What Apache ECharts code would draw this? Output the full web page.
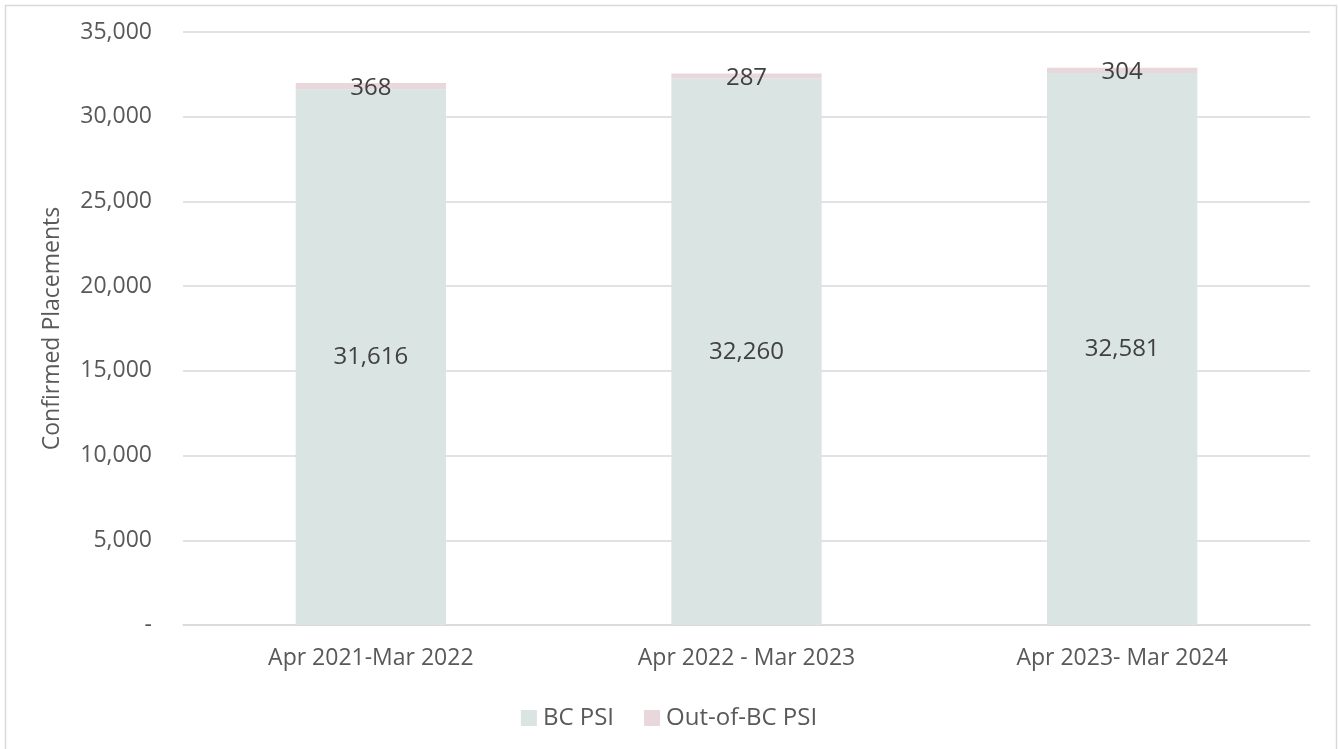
<!DOCTYPE html>
<html><head><meta charset="utf-8">
<script src="https://cdn.jsdelivr.net/npm/echarts@6/dist/echarts.min.js"></script>
<style>html,body{margin:0;padding:0;background:#fff;}#c{width:1338px;height:749px;}</style>
</head><body><div id="c"></div>
<script>
const categories = ["Apr 2021-Mar 2022", "Apr 2022 - Mar 2023", "Apr 2023- Mar 2024"];
const bcPsi = [31616, 32260, 32581];
const outOfBcPsi = [368, 287, 304];
const yTicks = [0, 5000, 10000, 15000, 20000, 25000, 30000, 35000];

const fmt = v => v === 0 ? "-" : v.toLocaleString("en-US");
const FONT = "'Open Sans', 'Liberation Sans', sans-serif";
const chart = echarts.init(document.getElementById('c'), null, {renderer: 'canvas'});
chart.setOption({
  animation: false,
  backgroundColor: '#fff',
  textStyle: {fontFamily: FONT},
  graphic: [{type: 'rect', shape: {x: 5.5, y: 5.5, width: 1331, height: 760}, style: {fill: 'none', stroke: '#d9d9d9', lineWidth: 1.5}, silent: true}],
  grid: {left: 183, right: 28, top: 32, bottom: 124},
  legend: {
    top: 701, left: 'center', itemWidth: 16, itemHeight: 16, itemGap: 30,
    icon: 'rect',
    textStyle: {fontSize: 24, color: '#595959', fontFamily: FONT, padding: [0, 0, 0, 1]},
    data: ['BC PSI', 'Out-of-BC PSI']
  },
  xAxis: {
    type: 'category', data: categories,
    axisLine: {lineStyle: {color: '#d9d9d9', width: 1.5}},
    axisTick: {show: false},
    axisLabel: {fontSize: 23, color: '#595959', margin: 22, fontFamily: FONT}
  },
  yAxis: {
    type: 'value', min: 0, max: 35000, interval: 5000,
    name: 'Confirmed Placements', nameLocation: 'middle', nameGap: 119, nameRotate: 90,
    nameTextStyle: {fontSize: 23, color: '#595959', fontFamily: FONT},
    axisLine: {show: false}, axisTick: {show: false},
    splitLine: {lineStyle: {color: '#d9d9d9', width: 1.5}},
    axisLabel: {fontSize: 23, color: '#595959', margin: 31, fontFamily: FONT,
      formatter: v => yTicks.includes(v) ? fmt(v) : ''}
  },
  series: [
    {name: 'BC PSI', type: 'bar', stack: 'total', data: bcPsi, barWidth: '40%',
      itemStyle: {color: '#d9e4e3'},
      label: {show: true, position: 'inside', fontSize: 24, color: '#404040', fontFamily: FONT,
        formatter: p => fmt(p.value)}},
    {name: 'Out-of-BC PSI', type: 'bar', stack: 'total', data: outOfBcPsi, barWidth: '40%',
      itemStyle: {color: '#e8d7db'},
      label: {show: true, position: 'inside', offset: [0, 2], fontSize: 24, color: '#404040', fontFamily: FONT,
        formatter: p => fmt(p.value)}}
  ]
});
</script></body></html>
